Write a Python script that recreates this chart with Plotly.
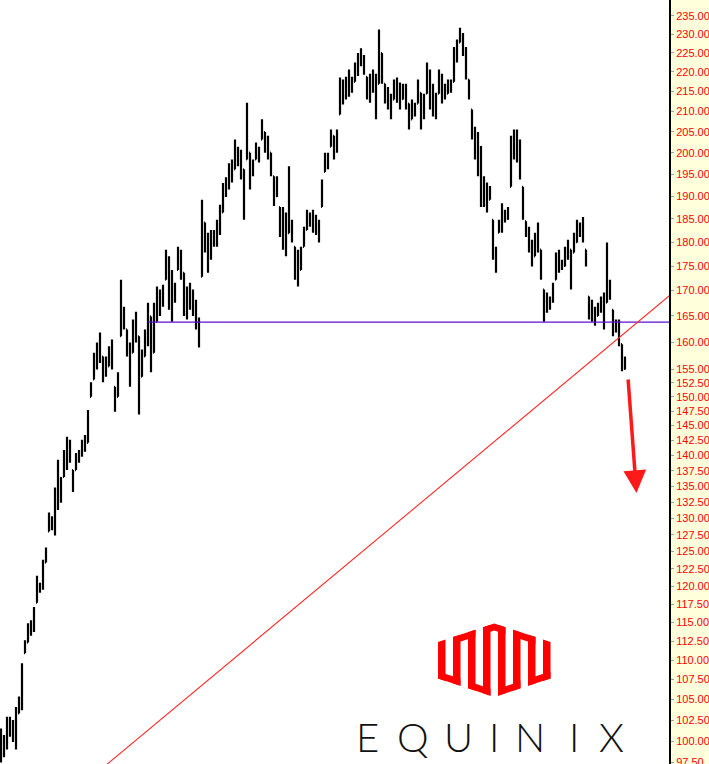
import plotly.graph_objects as go

# ---------------- data ----------------
highs = [101.5,100.7,102.9,102.9,102.5,104.1,105.4,109.6,112.6,114.9,
         115.3,117.1,121.5,120.5,123.8,125.6,130.9,130.3,134.8,139.3,
         136.5,140.9,143.1,142.6,137.6,140.4,140.9,142.6,143.4,147.7,
         152.6,158.0,159.9,161.8,157.3,157.3,159.2,160.5,151.8,154.4,
         172.2,166.8,162.4,159.9,164.3,165.8,161.1,158.6,162.4,167.6,
         164.9,167.6,170.8,170.2,171.2,178.4,177.0,174.2,171.6,179.0,
         178.4,173.6,170.8,171.6,170.2,168.2,164.7,189.2,184.2,182.0,
         182.6,182.6,184.8,188.1,193.0,194.3,197.5,198.4,203.1,201.4,
         200.7,196.1,212.1,200.0,198.4,202.4,201.4,208.0,204.9,204.0,
         200.0,194.5,194.5,187.6,187.6,186.4,196.8,184.8,179.0,178.4,
         179.0,183.3,187.0,186.4,187.0,185.9,184.8,193.8,200.0,200.0,
         205.5,204.0,205.5,218.5,218.0,218.7,220.6,218.7,222.4,224.9,
         226.2,224.4,218.7,219.5,220.6,219.5,231.2,224.9,216.9,216.1,
         214.4,218.0,218.5,217.2,216.9,216.9,211.9,212.9,212.1,218.0,
         214.6,214.4,222.4,220.6,216.9,214.6,220.6,219.5,216.9,218.0,
         218.0,226.5,228.5,231.7,230.3,226.5,218.0,210.4,206.2,204.9,
         201.6,194.5,193.1,192.3,184.8,179.0,184.8,188.4,187.0,187.6,
         204.0,205.5,205.5,203.1,192.1,184.5,183.3,180.5,182.0,184.2,
         178.4,170.2,169.6,168.8,171.6,177.8,178.4,176.3,179.0,180.5,
         178.4,182.0,184.8,184.2,185.4,178.4,168.8,168.2,166.8,167.6,
         168.8,169.6,179.9,172.2,166.2,164.3,164.3,159.6,157.3]

lows = [97.5,98.1,99.0,100.5,99.9,99.0,103.3,103.7,110.9,112.3,
        113.2,113.7,117.7,119.1,119.5,123.4,128.0,128.2,127.4,131.3,
        132.4,136.5,137.6,138.8,134.1,137.6,138.8,139.8,140.6,142.1,
        150.0,153.1,154.9,156.1,152.6,153.6,155.5,154.9,147.4,150.0,
        161.1,162.4,157.3,151.8,158.0,159.9,146.9,153.6,157.3,159.2,
        154.4,158.0,163.9,165.0,166.8,172.2,166.2,163.9,167.6,174.2,
        172.2,165.0,164.3,166.2,165.0,162.4,159.0,172.8,177.8,173.6,
        176.3,179.0,179.0,181.5,186.4,189.8,191.5,193.1,196.1,196.8,
        193.8,184.8,198.4,191.5,194.5,198.4,197.7,203.1,200.0,198.4,
        194.5,187.8,189.8,181.1,178.4,177.0,181.9,179.9,172.2,170.8,
        174.2,179.0,182.6,183.3,182.0,181.5,179.9,187.6,195.5,196.1,
        201.4,198.4,200.0,209.2,211.7,212.9,213.6,214.6,217.4,218.9,
        221.4,219.2,212.9,212.1,214.6,208.0,216.9,216.9,211.9,210.4,
        208.0,212.9,212.1,210.4,212.9,210.4,205.5,208.0,208.7,211.9,
        205.5,208.0,214.4,210.4,208.7,208.0,214.4,211.9,212.9,214.4,
        214.6,217.4,222.4,227.7,224.1,218.0,212.9,203.1,198.4,194.5,
        187.6,187.6,186.4,189.2,176.3,173.6,182.0,182.0,184.2,184.8,
        192.1,198.4,197.7,193.8,184.8,181.1,177.8,174.9,177.0,177.8,
        172.2,163.9,165.6,166.2,167.6,172.2,173.6,174.2,174.9,176.3,
        170.2,177.8,179.9,181.1,179.9,174.9,164.3,163.9,163.1,165.0,
        165.6,162.4,167.6,168.2,161.1,161.8,159.2,154.6,154.9]

closes = [99.0,99.5,101.5,101.0,101.5,100.5,104.5,109.0,111.5,113.5,
          114.0,116.5,120.0,120.0,123.0,125.0,130.0,129.5,133.0,134.0,
          135.0,139.0,141.0,139.5,135.0,139.0,140.0,141.5,142.0,146.5,
          151.0,156.0,157.0,158.0,154.0,155.5,158.0,156.0,149.0,153.0,
          166.0,164.0,159.0,154.0,162.0,163.0,150.0,156.0,160.0,165.0,
          157.0,163.0,168.0,167.0,170.0,176.0,169.0,168.0,170.0,177.0,
          174.0,168.0,167.0,169.0,166.0,164.0,162.0,185.0,181.0,178.0,
          180.0,181.0,183.0,186.0,191.0,192.0,195.0,196.0,200.0,199.0,
          197.0,189.0,200.0,195.0,197.0,201.0,199.0,206.0,203.0,200.0,
          196.0,190.0,192.0,183.0,181.0,180.0,184.0,182.0,174.0,173.0,
          177.0,181.0,185.0,185.0,184.0,183.0,182.0,191.0,198.0,198.0,
          204.0,201.0,203.0,215.0,215.0,216.0,217.0,216.0,220.0,222.0,
          223.0,221.0,216.0,215.0,218.0,212.0,225.0,219.0,214.0,212.0,
          211.0,216.0,214.0,213.0,215.0,212.0,208.0,210.0,211.0,215.0,
          209.0,212.0,219.0,213.0,211.0,210.0,218.0,215.0,214.0,216.0,
          217.0,224.0,226.0,229.0,226.0,220.0,214.0,205.0,201.0,197.0,
          192.0,190.0,189.0,191.0,178.0,175.0,183.0,186.0,185.0,186.0,
          200.0,203.0,202.0,196.0,187.0,183.0,180.0,177.0,179.0,181.0,
          175.0,167.0,167.0,168.0,170.0,176.0,176.0,175.0,177.0,179.0,
          174.0,180.0,183.0,182.0,181.0,176.0,166.0,165.0,164.0,166.0,
          167.0,165.0,170.0,170.0,163.0,163.0,160.0,155.0,155.5]

first_open = 99.5
support_level = 163.8                     # horizontal support line
support_start = 49                        # bar index where the line begins
trend_x = [20, 230]                       # rising trendline anchors (bar index)
trend_y = [93.0, 172.6]

tick_vals = [235, 230, 225, 220, 215, 210, 205, 200, 195, 190, 185, 180,
             175, 170, 165, 160, 155, 152.5, 150, 147.5, 145, 142.5, 140,
             137.5, 135, 132.5, 130, 127.5, 125, 122.5, 120, 117.5, 115,
             112.5, 110, 107.5, 105, 102.5, 100, 97.5]
tick_text = [f"{v:.2f}" for v in tick_vals]

# ---------------- figure ----------------
n = len(closes)
idx = list(range(n))
opens = [first_open] + [min(max(closes[i - 1], lows[i]), highs[i]) for i in range(1, n)]

W, H = 709, 764
PW, PH = 669, 764  # plot area in pixels

fig = go.Figure()
fig.add_trace(go.Ohlc(
    x=idx, open=opens, high=highs, low=lows, close=closes,
    increasing=dict(line=dict(color="black", width=2.2)),
    decreasing=dict(line=dict(color="black", width=2.2)),
    tickwidth=0.3, hoverinfo="skip", showlegend=False))

fig.add_trace(go.Scatter(x=[support_start, 240], y=[support_level, support_level],
                         mode="lines", line=dict(color="#5A10D0", width=1.2),
                         hoverinfo="skip", showlegend=False))
fig.add_trace(go.Scatter(x=trend_x, y=trend_y, mode="lines",
                         line=dict(color="#FF2A2A", width=1.1),
                         hoverinfo="skip", showlegend=False))

# ---------------- logo ----------------
def P(x, y):
    return f"{x / PW:.5f},{1 - y / PH:.5f}"

L0, pitch, sw, nstroke = 438.0, 15.0, 7.5, 8
cx = L0 + ((nstroke - 1) * pitch + sw) / 2
top_c, bot_c, slope, th = 623.5, 697.0, 0.33, 7.0

def top(x):
    return top_c + slope * abs(x - cx)

def bot(x):
    return bot_c - slope * abs(x - cx)

def band(a, b, fu, fl):
    xs = [a] + ([cx] if a < cx < b else []) + [b]
    pts = [(x, fu(x)) for x in xs] + [(x, fl(x)) for x in reversed(xs)]
    return "M " + " L ".join(P(x, y) for x, y in pts) + " Z"

logo_paths = []
for k in range(nstroke):
    a = L0 + k * pitch
    logo_paths.append(band(a, a + sw, top, bot))
for k in range(nstroke - 1):
    a = L0 + k * pitch
    b = L0 + (k + 1) * pitch + sw
    if k % 2 == 0:
        logo_paths.append(band(a, b, lambda x: bot(x) - th, bot))
    else:
        logo_paths.append(band(a, b, top, lambda x: top(x) + th))

shapes = [dict(type="path", path=p, xref="paper", yref="paper",
               fillcolor="#FF0000", line=dict(width=0), layer="above")
          for p in logo_paths]

annotations = []
letters = ["E", "Q", "U", "I", "N", "I", "X"]
letter_x = [367, 413, 458, 493.5, 530, 573.5, 611.5]
for ch, lx in zip(letters, letter_x):
    annotations.append(dict(text=ch, x=lx / PW, y=1 - 737 / PH, xref="paper", yref="paper",
                            showarrow=False, xanchor="center", yanchor="middle",
                            font=dict(family="Lato", size=40, color="#111111", weight=300)))

annotations.append(dict(text="", x=636.5 / PW, y=1 - 493 / PH, xref="paper", yref="paper",
                        showarrow=True, ax=-8.5, ay=-115, arrowcolor="#FF1A1A",
                        arrowwidth=3.5, arrowhead=2, arrowsize=1.3, standoff=0))

fig.update_layout(
    width=W, height=H,
    margin=dict(l=0, r=W - PW, t=0, b=0, autoexpand=False),
    paper_bgcolor="#FFFFDC", plot_bgcolor="#FFFFFF",
    showlegend=False, hovermode=False,
    shapes=shapes, annotations=annotations,
    xaxis=dict(range=[-1 / 3, PW / 3 - 1 / 3], visible=False, automargin=False,
               rangeslider=dict(visible=False), fixedrange=True),
    yaxis=dict(type="log", range=[1.98825, 2.37913], side="right", automargin=False,
               showgrid=False, zeroline=False, showline=True,
               linecolor="black", linewidth=2, ticks="outside", ticklen=3,
               tickcolor="#A0A0A0", tickvals=tick_vals, ticktext=tick_text,
               ticklabeloverflow="allow",
               tickfont=dict(family="Liberation Sans", size=11, color="#FF0000"),
               fixedrange=True),
)

fig.write_html(
    "out.html", config={"displayModeBar": False, "staticPlot": True},
    post_script=(
        "document.documentElement.style.overflow='hidden';"
        "document.body.style.overflow='hidden';"
        "document.body.style.margin='0px';document.body.style.padding='0px';"
    ))
